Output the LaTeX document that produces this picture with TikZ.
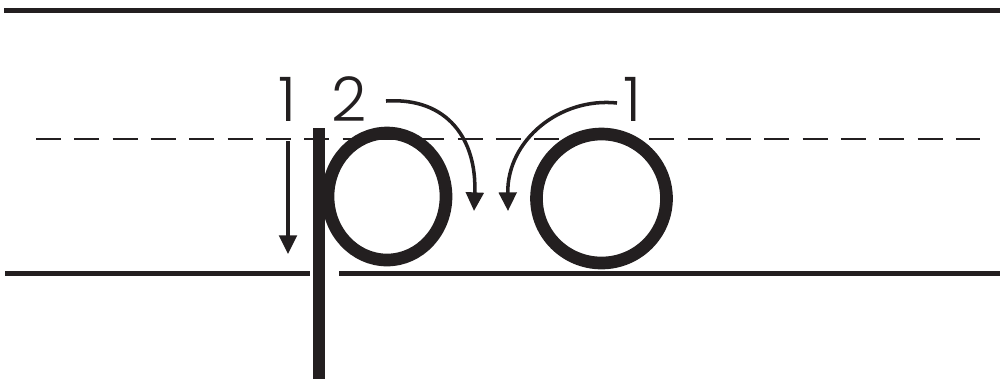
\documentclass[tikz,border=0pt]{standalone}
\usepackage{fontspec}
\setmainfont{Liberation Sans}
\newfontfamily\digitfont{Poppins Light}
\usetikzlibrary{arrows.meta}
\definecolor{ink}{HTML}{231F20}
\tikzset{
  rule/.style={draw=ink,line width=1.45pt},
  midrule/.style={draw=ink,line width=0.5pt,dash pattern=on 7.1pt off 3.8pt},
  letterstroke/.style={draw=ink,line width=3.6pt},
  guide/.style={draw=ink,line width=1pt,-{Triangle[length=5.3pt,width=5pt]}},
  num/.style={inner sep=0pt,text=ink,font=\digitfont\fontsize{17.5}{20}\selectfont}
}
\begin{document}
\begin{tikzpicture}[x=0.01cm,y=-0.01cm]
\useasboundingbox (0,0) rectangle (1000,381);
% ruled lines
\draw[rule] (4,10.5) -- (1000,10.5);
\draw[midrule] (36,139) -- (980,139);
\draw[rule] (5,273.5) -- (310,273.5);
\draw[rule] (339,273.5) -- (1000,273.5);
% letter p
\draw[letterstroke] (319,128) -- (319,379);
\draw[letterstroke] (387,196.5) ellipse [x radius=59,y radius=63.5];
% letter o
\draw[letterstroke] (601.5,198.5) ellipse [x radius=65,y radius=64.5];
% numbers
\node[num] (n1) at (287,99.5) {1};
\node[num] (n2) at (349,99.5) {2};
\node[num] (n3) at (632,99.5) {1};
% guide arrows
\coordinate (a1s) at (288,141);
\coordinate (a1e) at (288,254);
\draw[guide] (a1s) -- (a1e);
\coordinate (a2s) at (386,101);
\coordinate (a2e) at (474,211);
\draw[guide] (a2s) .. controls (448,97) and (477,140) .. (a2e);
\coordinate (a3s) at (617,103);
\coordinate (a3e) at (508,211);
\draw[guide] (a3s) .. controls (560,97) and (507,140) .. (a3e);
\end{tikzpicture}
\end{document}
